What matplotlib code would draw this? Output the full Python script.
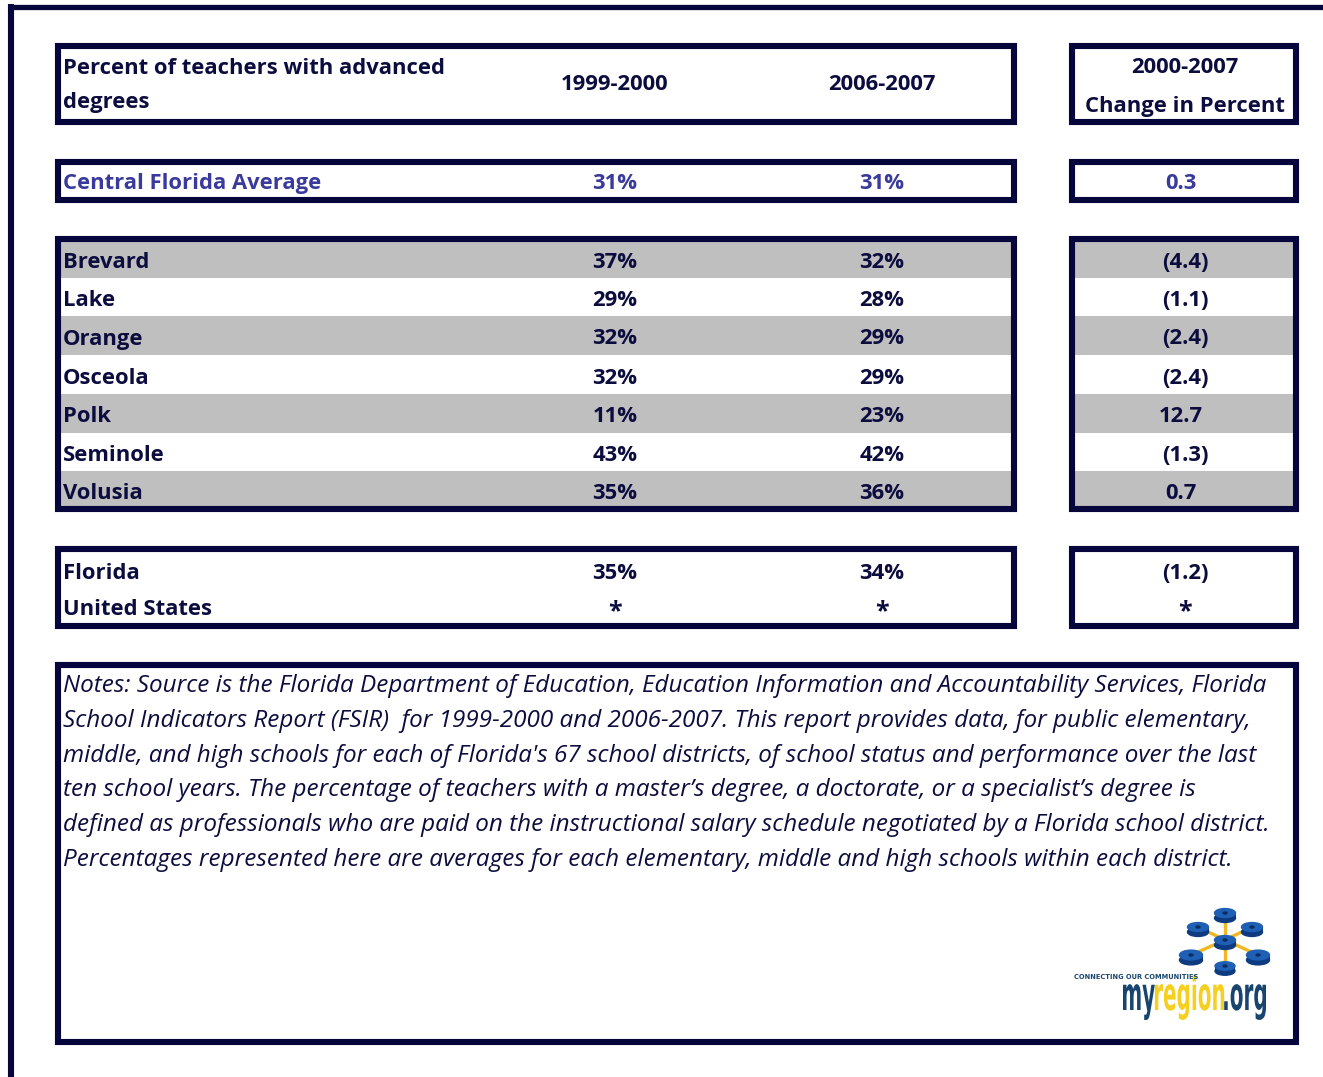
import matplotlib.pyplot as plt
from matplotlib.patches import Rectangle, Ellipse, PathPatch
from matplotlib.textpath import TextPath
from matplotlib.font_manager import FontProperties
from matplotlib.transforms import Affine2D

# table data
header_title = ["Percent of teachers with advanced", "degrees"]
periods = ["1999-2000", "2006-2007"]
change_head = ["2000-2007", "Change in Percent"]

avg_label = "Central Florida Average"
avg_vals = ["31%", "31%"]
avg_change = 0.3

counties = ["Brevard", "Lake", "Orange", "Osceola", "Polk", "Seminole", "Volusia"]
pct_1999 = [37, 29, 32, 32, 11, 43, 35]
pct_2006 = [32, 28, 29, 29, 23, 42, 36]
change = [-4.4, -1.1, -2.4, -2.4, 12.7, -1.3, 0.7]

ref_names = ["Florida", "United States"]
ref_1999 = ["35%", "*"]
ref_2006 = ["34%", "*"]
ref_change = ["(1.2)", "*"]

notes = [
    "Notes: Source is the Florida Department of Education, Education Information and Accountability Services, Florida",
    "School Indicators Report (FSIR)  for 1999-2000 and 2006-2007. This report provides data, for public elementary,",
    "middle, and high schools for each of Florida's 67 school districts, of school status and performance over the last",
    "ten school years. The percentage of teachers with a master\u2019s degree, a doctorate, or a specialist\u2019s degree is",
    "defined as professionals who are paid on the instructional salary schedule negotiated by a Florida school district.",
    "Percentages represented here are averages for each elementary, middle and high schools within each district.",
]

NAVY = "#06063d"
TXT = "#0c0c3e"
BLUE = "#3a3a9c"
GRAY = "#bfbfbf"
FONT = "Open Sans"
FS = 15.8


def fmt_change(v):
    return f"({abs(v):.1f})" if v < 0 else f"{v:.1f}"


fig = plt.figure(figsize=(13.23, 10.77), dpi=100)
ax = fig.add_axes([0, 0, 1, 1])
ax.set_xlim(0, 1323)
ax.set_ylim(1077, 0)
ax.axis("off")

lw = 4.4  # ~6 px


def box(x0, y0, x1, y1, w=lw):
    ax.add_patch(Rectangle((x0, y0), x1 - x0, y1 - y0, fill=False,
                           edgecolor=NAVY, linewidth=w, zorder=5))


def txt(x, y, s, ha="left", color=TXT, size=FS, weight="bold", style="normal"):
    ax.text(x, y, s, ha=ha, va="baseline", color=color, fontsize=size,
            fontweight=weight, fontstyle=style, family=FONT, zorder=6)


# outer frame (top and left)
ax.plot([11, 1323], [6.5, 6.5], color=NAVY, lw=3.8, solid_capstyle="butt")
ax.plot([11, 11], [4, 1077], color=NAVY, lw=4.4, solid_capstyle="butt")

col1, col2, col3 = 615, 882, 1185
lx = 63

# header
box(58, 46, 1014, 122)
box(1072, 46, 1296, 122)
txt(lx, 74, header_title[0])
txt(lx, 108, header_title[1])
txt(col1, 90, periods[0], ha="center")
txt(col2, 90, periods[1], ha="center")
txt(col3, 73, change_head[0], ha="center")
txt(col3, 112, change_head[1], ha="center")

# central florida average
box(58, 162, 1014, 200)
box(1072, 162, 1296, 200)
txt(lx, 189, avg_label, color=BLUE)
txt(col1, 189, avg_vals[0], ha="center", color=BLUE)
txt(col2, 189, avg_vals[1], ha="center", color=BLUE)
txt(col3 - 4, 189, fmt_change(avg_change), ha="center", color=BLUE)

# counties
edges = [240, 278, 316, 355, 394, 433, 471, 509]
for i, name in enumerate(counties):
    top, bot = edges[i], edges[i + 1]
    if i % 2 == 0:
        ax.add_patch(Rectangle((58, top), 956, bot - top, color=GRAY, lw=0, zorder=1))
        ax.add_patch(Rectangle((1072, top), 224, bot - top, color=GRAY, lw=0, zorder=1))
    base = (top + bot) / 2 + 9
    txt(lx, base, name)
    txt(col1, base, f"{pct_1999[i]}%", ha="center")
    txt(col2, base, f"{pct_2006[i]}%", ha="center")
    cx = col3 if change[i] < 0 else col3 - 4
    txt(cx, base, fmt_change(change[i]), ha="center")
box(58, 239, 1014, 509)
box(1072, 239, 1296, 509)

# florida / us
box(58, 549, 1014, 626)
box(1072, 549, 1296, 626)
for i, name in enumerate(ref_names):
    base = 579 + i * 36
    txt(lx, base, name)
    for cx, val in [(col1, ref_1999[i]), (col2, ref_2006[i]), (col3, ref_change[i])]:
        if val == "*":
            txt(cx, base + 3, val, ha="center", size=18)
        else:
            txt(cx, base, val, ha="center")

# notes
box(58, 665, 1296, 1042)
for i, line in enumerate(notes):
    txt(lx, 692 + i * 34.8, line, weight="normal", style="italic", size=17.5)

# logo: hub with spokes
hub = (1225, 940)
spokes = [(1225, 913), (1198, 927), (1252, 927), (1191, 955), (1258, 955), (1225, 966)]
for sx, sy in spokes:
    ax.plot([hub[0], sx], [hub[1], sy], color="#f2b824", lw=2.4, zorder=7)
radii = [10.5, 10.5, 10.5, 10.5, 11.5, 11.5, 10]
for (sx, sy), r in zip([hub] + spokes, radii):
    ax.add_patch(Ellipse((sx, sy + 5), 2 * r, r * 0.85, color="#0e3b80", zorder=8))
    ax.add_patch(Rectangle((sx - r, sy), 2 * r, 5, color="#0e3b80", lw=0, zorder=8))
    ax.add_patch(Ellipse((sx, sy), 2 * r, r * 0.85, color="#1f5fb4", zorder=9))
    ax.add_patch(Ellipse((sx, sy), 4, 2, color="#0a2d66", zorder=10))
ax.text(1074, 979, "CONNECTING OUR COMMUNITIES", fontsize=4.8, fontweight="bold",
        color="#17456f", family="DejaVu Sans", va="baseline", zorder=11)

# logo: word mark, squeezed to fit
fp = FontProperties(family="DejaVu Sans", weight="bold")
parts = [("my", "#17456f"), ("region", "#f5d020"), (".org", "#17456f")]
paths = [TextPath((0, 0), p, size=44, prop=fp) for p, _ in parts]
total = sum(tp.get_extents().width for tp in paths)
sx = (1266 - 1123) / total
x = 1123
for tp, (_, c) in zip(paths, parts):
    ext = tp.get_extents()
    tr = Affine2D().translate(-ext.x0, 0).scale(sx, -1.05).translate(x, 1010)
    ax.add_patch(PathPatch(tr.transform_path(tp), color=c, lw=0, zorder=7))
    x += ext.width * sx

fig.savefig("out.png", dpi=100)
